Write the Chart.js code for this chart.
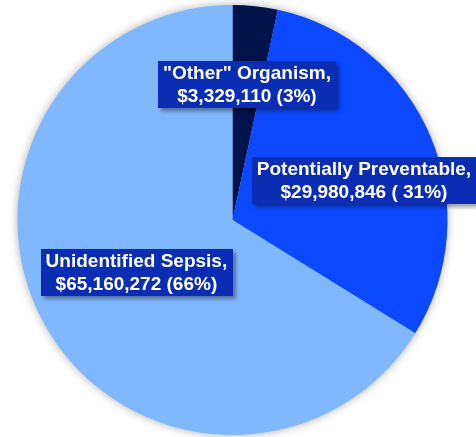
<!DOCTYPE html>
<html>
<head>
<meta charset="utf-8">
<script src="https://cdn.jsdelivr.net/npm/chart.js@4.4.1/dist/chart.umd.min.js"></script>
<style>
  html, body { margin: 0; padding: 0; background: #ffffff; }
  #wrap { width: 476px; height: 437px; position: relative; }
</style>
</head>
<body>
<div id="wrap"><canvas id="pie" width="476" height="437"></canvas></div>
<script>
// Sepsis cost breakdown
const categories = ['"Other" Organism,', 'Potentially Preventable,', 'Unidentified Sepsis,'];
const costs = [3329110, 29980846, 65160272];
const percentText = ['(3%)', '( 31%)', '(66%)'];

const sliceColors = ['#00134a', '#0c48ff', '#80b8ff'];

// label placement: fraction of radius along the slice mid-angle, plus a nudge
const labelRadius = [0.634, 0.634, 0.634];
const labelNudge = [[0, 0], [6, 14], [23, -14]];

const pieShadow = {
  id: 'pieShadow',
  beforeDatasetsDraw(chart) {
    const arc = chart.getDatasetMeta(0).data[0];
    if (!arc) return;
    const ctx = chart.ctx;
    ctx.save();
    ctx.shadowColor = 'rgba(0,0,0,0.35)';
    ctx.shadowBlur = 10;
    ctx.fillStyle = '#80b8ff';
    ctx.beginPath();
    ctx.arc(arc.x, arc.y, arc.outerRadius - 0.5, 0, Math.PI * 2);
    ctx.fill();
    ctx.restore();
  }
};

const boxLabels = {
  id: 'boxLabels',
  afterDatasetsDraw(chart) {
    const ctx = chart.ctx;
    const meta = chart.getDatasetMeta(0);
    ctx.save();
    ctx.font = 'bold 19px "Liberation Sans", Arial, sans-serif';
    ctx.textAlign = 'center';
    ctx.textBaseline = 'middle';
    meta.data.forEach((arc, i) => {
      const mid = (arc.startAngle + arc.endAngle) / 2;
      const r = arc.outerRadius * labelRadius[i];
      const cx = arc.x + Math.cos(mid) * r + labelNudge[i][0];
      const cy = arc.y + Math.sin(mid) * r + labelNudge[i][1];
      const lines = [categories[i], '$' + costs[i].toLocaleString('en-US') + ' ' + percentText[i]];
      const w = Math.max(...lines.map(t => ctx.measureText(t).width)) + 10;
      const lineH = 23;
      const h = lineH * lines.length + 1;
      const x0 = cx - w / 2, y0 = cy - h / 2;
      ctx.save();
      ctx.shadowColor = 'rgba(0,0,0,0.4)';
      ctx.shadowBlur = 4;
      ctx.shadowOffsetX = 3;
      ctx.shadowOffsetY = 3;
      ctx.fillStyle = '#0b2db4';
      ctx.fillRect(Math.round(x0), Math.round(y0), Math.round(w), h);
      ctx.restore();
      ctx.fillStyle = '#ffffff';
      lines.forEach((t, k) => {
        ctx.fillText(t, cx, y0 + lineH / 2 + 1 + k * lineH);
      });
    });
    ctx.restore();
  }
};

new Chart(document.getElementById('pie'), {
  type: 'pie',
  data: {
    labels: categories,
    datasets: [{
      data: costs,
      backgroundColor: sliceColors,
      borderWidth: 0
    }]
  },
  options: {
    responsive: false,
    animation: false,
    layout: { padding: { left: 15, right: 26, top: 5, bottom: 2 } },
    plugins: {
      legend: { display: false },
      tooltip: { enabled: false }
    }
  },
  plugins: [pieShadow, boxLabels]
});
</script>
</body>
</html>
